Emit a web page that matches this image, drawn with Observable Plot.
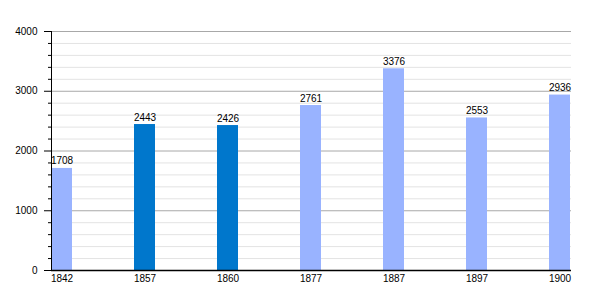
<!DOCTYPE html>
<html><head><meta charset="utf-8">
<script src="https://cdn.jsdelivr.net/npm/d3@7"></script>
<script src="https://cdn.jsdelivr.net/npm/@observablehq/plot@0.6"></script>
<style>body{margin:0;background:#fff}</style>
</head><body><div id="chart"></div>
<script>
const years = ["1842","1857","1860","1877","1887","1897","1900"];
const population = [1708, 2443, 2426, 2761, 3376, 2553, 2936];
const highlight = [false, true, true, false, false, false, false];
const majorTicks = [0, 1000, 2000, 3000, 4000];
const minorTicks = d3.range(0, 4001, 200).filter(v => v % 1000 !== 0);

const data = years.map((y, i) => ({year: y, value: population[i], hl: highlight[i]}));
const step = 83.17;
const chart = Plot.plot({
  width: 600, height: 300,
  marginLeft: 51, marginRight: 29, marginTop: 31, marginBottom: 30,
  style: {fontFamily: "'Liberation Sans', Arial, sans-serif", fontSize: "10px", color: "#000", background: "#fff"},
  x: {type: "band", domain: years, range: [61 - step/2, 560 + step/2], paddingInner: 0.75, paddingOuter: 0.375, label: null},
  y: {domain: [0, 4000], label: null},
  marks: [
    Plot.ruleY(minorTicks, {stroke: "#e3e3e3", strokeWidth: 1}),
    Plot.ruleY(majorTicks.filter(v => v > 0), {stroke: "#a8a8a8", strokeWidth: 1}),
    Plot.barY(data, {x: "year", y: "value", fill: d => d.hl ? "#0077cc" : "#99b3ff"}),
    Plot.text(data, {x: "year", y: "value", text: d => String(d.value), dy: -4, lineAnchor: "bottom", fill: "#000", fontSize: 10}),
    Plot.axisY({ticks: minorTicks, tickSize: 3, text: null, stroke: "#000", label: null}),
    Plot.axisY({ticks: majorTicks, tickSize: 7, tickPadding: 7, tickFormat: d => String(d), stroke: "#000", label: null, fill: "#000"}),
    Plot.axisX({tickSize: 0, tickPadding: 4, label: null, fill: "#000"}),
    Plot.frame({anchor: "left", stroke: "#000"}),
    Plot.ruleY([0], {stroke: "#000", strokeWidth: 1.5})
  ]
});
document.getElementById("chart").appendChild(chart);
</script></body></html>
